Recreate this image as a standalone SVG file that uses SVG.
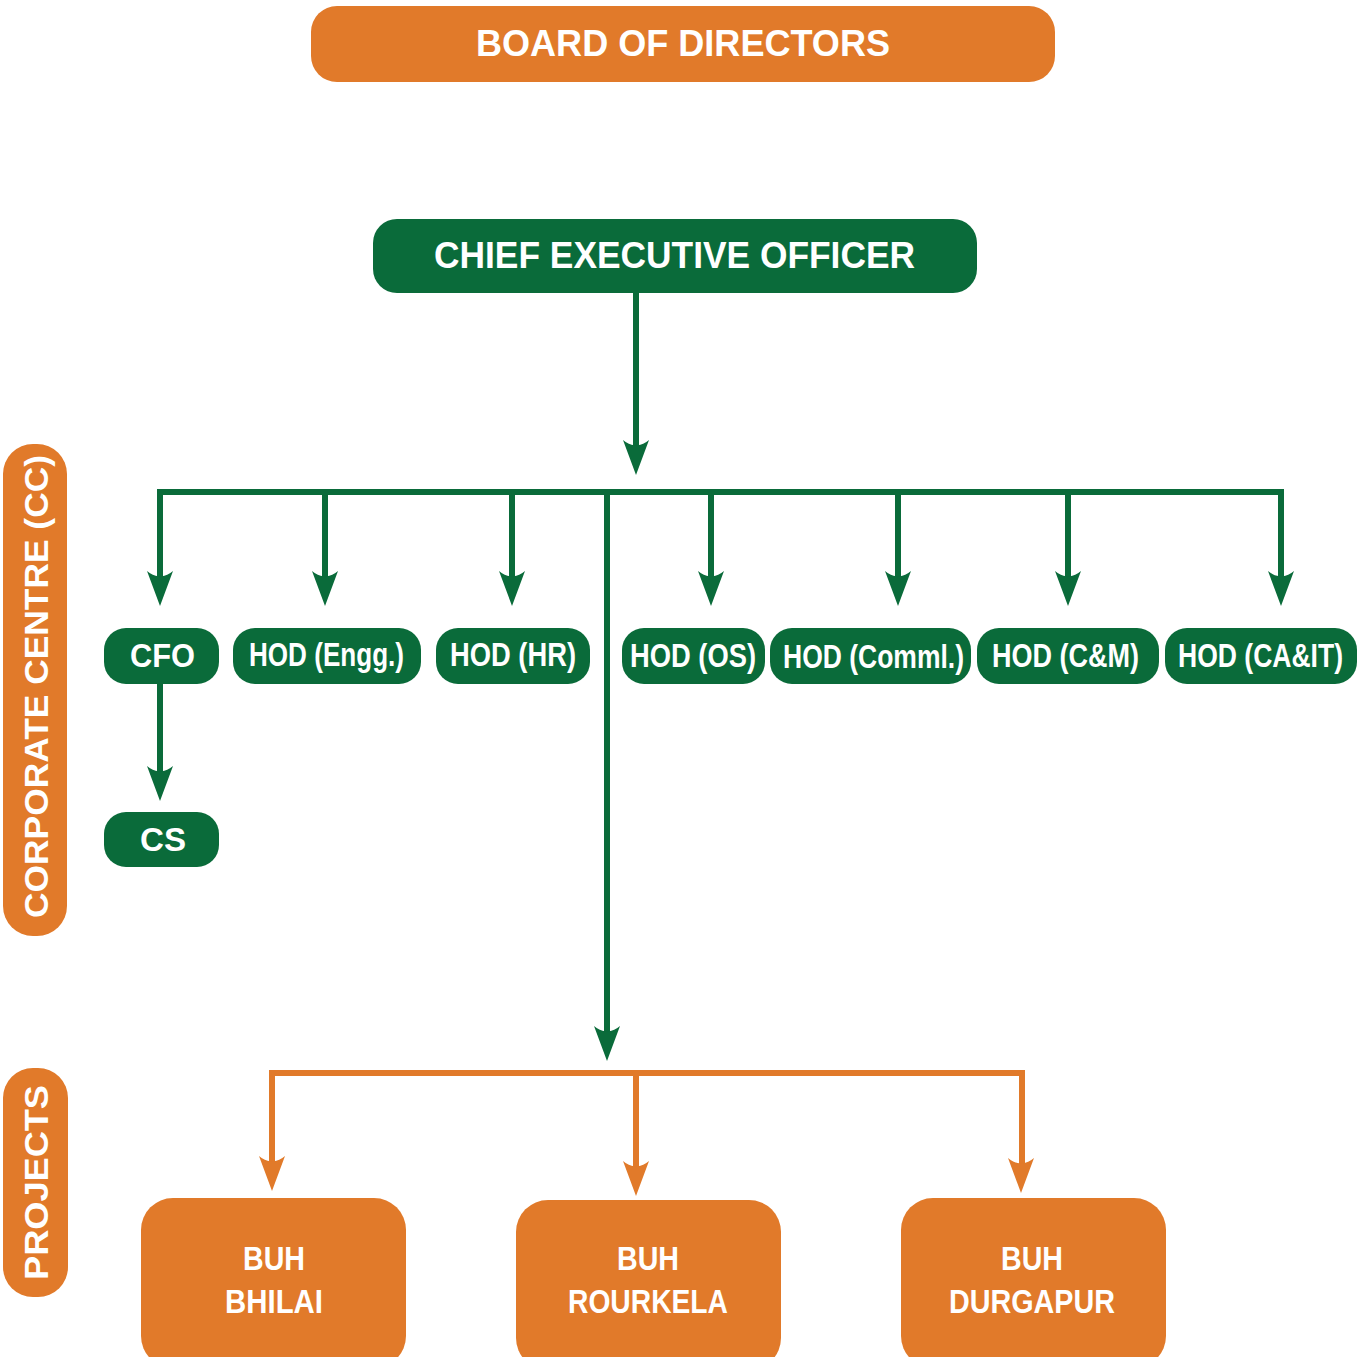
<svg xmlns="http://www.w3.org/2000/svg" xmlns:xlink="http://www.w3.org/1999/xlink" width="1359" height="1357" viewBox="0 0 1359 1357">
  <style>
    .org { fill: #E17A2A; }
    .grn { fill: #0A6B3A; }
    .lg { stroke: #0A6B3A; stroke-width: 6; fill: none; }
    .lo { stroke: #E17A2A; stroke-width: 6; fill: none; }
    .t { fill: #FFFFFF; font-family: "Liberation Sans Narrow", "Liberation Sans", Arial, sans-serif; font-weight: bold; text-anchor: start; }
    .w { fill: #FFFFFF; font-family: "Liberation Sans", Arial, sans-serif; font-weight: bold; }
  </style>
  <defs>
    <!-- barbed arrowhead, tip at origin pointing down -->
    <path id="ahG" class="grn" d="M0,0 L-13,-35 Q-6,-29 0,-30 Q6,-29 13,-35 Z"/>
    <path id="ahO" class="org" d="M0,0 L-13,-35 Q-6,-29 0,-30 Q6,-29 13,-35 Z"/>
  </defs>

  <!-- connectors -->
  <g id="connectors">
    <!-- CEO down to the department bus -->
    <line class="lg" x1="636" y1="292" x2="636" y2="450"/>
    <use xlink:href="#ahG" x="636" y="475"/>
    <!-- department bus -->
    <polyline class="lg" points="160,580 160,492 1281,492 1281,580"/>
    <line class="lg" x1="325" y1="492" x2="325" y2="580"/>
    <line class="lg" x1="512" y1="492" x2="512" y2="580"/>
    <line class="lg" x1="711" y1="492" x2="711" y2="580"/>
    <line class="lg" x1="898" y1="492" x2="898" y2="580"/>
    <line class="lg" x1="1068" y1="492" x2="1068" y2="580"/>
    <use xlink:href="#ahG" x="160" y="606"/>
    <use xlink:href="#ahG" x="325" y="606"/>
    <use xlink:href="#ahG" x="512" y="606"/>
    <use xlink:href="#ahG" x="711" y="606"/>
    <use xlink:href="#ahG" x="898" y="606"/>
    <use xlink:href="#ahG" x="1068" y="606"/>
    <use xlink:href="#ahG" x="1281" y="606"/>
    <!-- CFO to CS -->
    <line class="lg" x1="160" y1="684" x2="160" y2="775"/>
    <use xlink:href="#ahG" x="160" y="801"/>
    <!-- bus down to projects -->
    <line class="lg" x1="607" y1="492" x2="607" y2="1035"/>
    <use xlink:href="#ahG" x="607" y="1061"/>
    <!-- project bus -->
    <polyline class="lo" points="272,1165 272,1073 1022,1073 1022,1168"/>
    <line class="lo" x1="636" y1="1073" x2="636" y2="1170"/>
    <use xlink:href="#ahO" x="272" y="1191"/>
    <use xlink:href="#ahO" x="636" y="1196"/>
    <use xlink:href="#ahO" x="1021" y="1193"/>
  </g>

  <!-- section labels -->
  <g id="label-cc">
    <rect class="org" x="3" y="444" width="64" height="492" rx="30"/>
    <text class="w" transform="translate(48,918) rotate(-90)" font-size="33" textLength="463" lengthAdjust="spacingAndGlyphs">CORPORATE CENTRE (CC)</text>
  </g>
  <g id="label-projects">
    <rect class="org" x="3" y="1068" width="65" height="229" rx="30"/>
    <text class="w" transform="translate(48,1280) rotate(-90)" font-size="33" textLength="195" lengthAdjust="spacingAndGlyphs">PROJECTS</text>
  </g>

  <!-- board -->
  <g id="board">
    <rect class="org" x="311" y="6" width="744" height="76" rx="26"/>
    <text class="t" x="476" y="56" font-size="36" textLength="414" lengthAdjust="spacingAndGlyphs">BOARD OF DIRECTORS</text>
  </g>

  <!-- chief executive -->
  <g id="ceo">
    <rect class="grn" x="373" y="219" width="604" height="74" rx="24"/>
    <text class="t" x="434" y="268" font-size="36" textLength="481" lengthAdjust="spacingAndGlyphs">CHIEF EXECUTIVE OFFICER</text>
  </g>

  <!-- department heads -->
  <g id="cfo">
    <rect class="grn" x="104" y="628" width="115" height="56" rx="22"/>
    <text class="w" x="130" y="667" font-size="33" textLength="65" lengthAdjust="spacingAndGlyphs">CFO</text>
  </g>
  <g id="hod-engg">
    <rect class="grn" x="233" y="628" width="188" height="56" rx="22"/>
    <text class="t" x="249" y="666" font-size="33" textLength="155" lengthAdjust="spacingAndGlyphs">HOD (Engg.)</text>
  </g>
  <g id="hod-hr">
    <rect class="grn" x="436" y="628" width="154" height="56" rx="22"/>
    <text class="t" x="450" y="666" font-size="33" textLength="126" lengthAdjust="spacingAndGlyphs">HOD (HR)</text>
  </g>
  <g id="hod-os">
    <rect class="grn" x="622" y="628" width="143" height="56" rx="22"/>
    <text class="t" x="630" y="667" font-size="33" textLength="126" lengthAdjust="spacingAndGlyphs">HOD (OS)</text>
  </g>
  <g id="hod-comml">
    <rect class="grn" x="770" y="628" width="201" height="56" rx="22"/>
    <text class="t" x="783" y="668" font-size="33" textLength="181" lengthAdjust="spacingAndGlyphs">HOD (Comml.)</text>
  </g>
  <g id="hod-cm">
    <rect class="grn" x="977" y="628" width="182" height="56" rx="22"/>
    <text class="t" x="992" y="667" font-size="33" textLength="147" lengthAdjust="spacingAndGlyphs">HOD (C&amp;M)</text>
  </g>
  <g id="hod-cait">
    <rect class="grn" x="1165" y="628" width="192" height="56" rx="22"/>
    <text class="t" x="1178" y="667" font-size="33" textLength="165" lengthAdjust="spacingAndGlyphs">HOD (CA&amp;IT)</text>
  </g>
  <g id="cs">
    <rect class="grn" x="104" y="812" width="115" height="55" rx="22"/>
    <text class="w" x="140" y="851" font-size="33" textLength="46" lengthAdjust="spacingAndGlyphs">CS</text>
  </g>

  <!-- business unit heads -->
  <g id="buh-bhilai">
    <rect class="org" x="141" y="1198" width="265" height="170" rx="32"/>
    <text class="t" x="243" y="1270" font-size="34" textLength="62" lengthAdjust="spacingAndGlyphs">BUH</text>
    <text class="t" x="225" y="1313" font-size="34" textLength="98" lengthAdjust="spacingAndGlyphs">BHILAI</text>
  </g>
  <g id="buh-rourkela">
    <rect class="org" x="516" y="1200" width="265" height="170" rx="32"/>
    <text class="t" x="617" y="1270" font-size="34" textLength="62" lengthAdjust="spacingAndGlyphs">BUH</text>
    <text class="t" x="568" y="1313" font-size="34" textLength="160" lengthAdjust="spacingAndGlyphs">ROURKELA</text>
  </g>
  <g id="buh-durgapur">
    <rect class="org" x="901" y="1198" width="265" height="170" rx="32"/>
    <text class="t" x="1001" y="1270" font-size="34" textLength="62" lengthAdjust="spacingAndGlyphs">BUH</text>
    <text class="t" x="949" y="1313" font-size="34" textLength="166" lengthAdjust="spacingAndGlyphs">DURGAPUR</text>
  </g>
</svg>
